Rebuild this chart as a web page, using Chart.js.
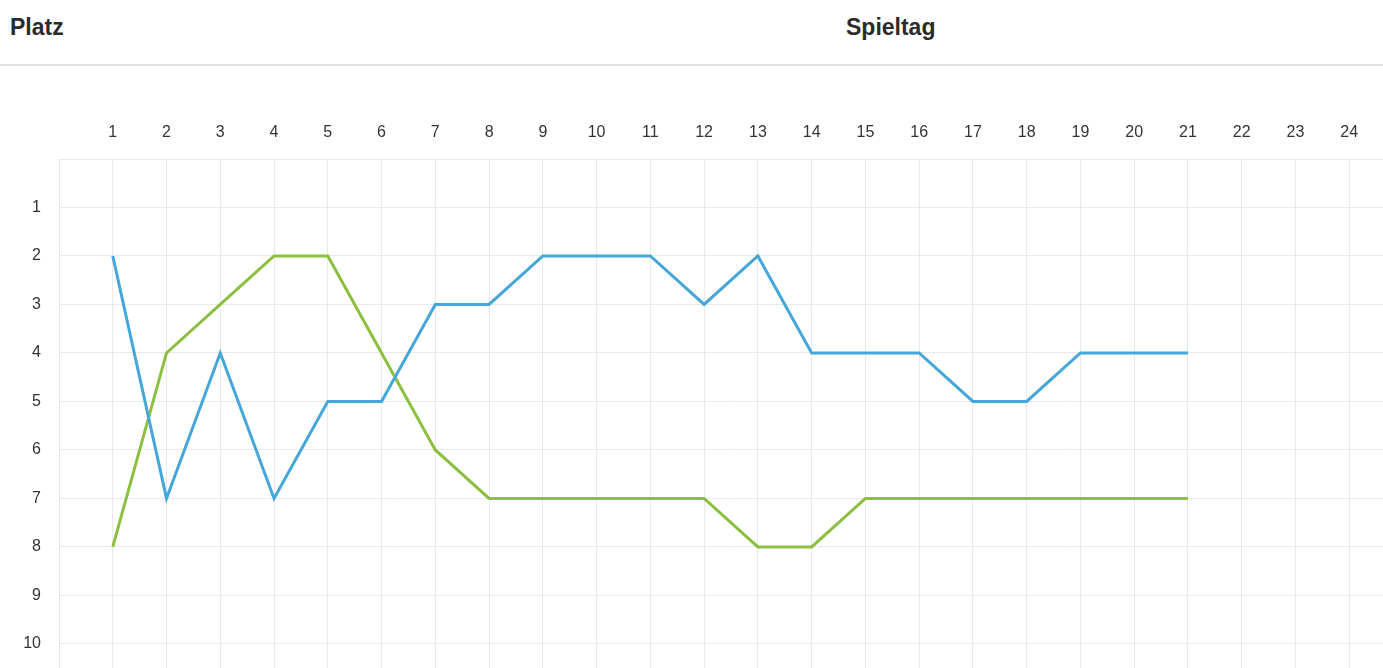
<!DOCTYPE html>
<html>
<head>
<meta charset="utf-8">
<script src="https://cdn.jsdelivr.net/npm/chart.js@4"></script>
<style>
  body { margin: 0; background: #fff; overflow: hidden; font-family: "Liberation Sans", Arial, sans-serif; }
  .title { position: absolute; top: 12px; font-size: 23px; font-weight: bold; color: #2b2b2b; line-height: 30px; }
  #platz { left: 10px; }
  #spieltag { left: 846px; }
  #rule { position: absolute; left: 0; top: 64px; width: 1383px; height: 2px; background: #e2e2e2; }
  #chart { position: absolute; left: 0; top: 102px; }
</style>
</head>
<body>
<div class="title" id="platz">Platz</div>
<div class="title" id="spieltag">Spieltag</div>
<div id="rule"></div>
<canvas id="chart" width="1420" height="715"></canvas>
<script>
// Spieltage and Tabellenplätze
const spieltage = [1, 2, 3, 4, 5, 6, 7, 8, 9, 10, 11, 12, 13, 14, 15, 16, 17, 18, 19, 20, 21];
const platzBlau = [2, 7, 4, 7, 5, 5, 3, 3, 2, 2, 2, 3, 2, 4, 4, 4, 5, 5, 4, 4, 4];
const platzGruen = [8, 4, 3, 2, 2, 4, 6, 7, 7, 7, 7, 7, 8, 8, 7, 7, 7, 7, 7, 7, 7];

// tick labels
const spieltagTicks = [1, 2, 3, 4, 5, 6, 7, 8, 9, 10, 11, 12, 13, 14, 15, 16, 17, 18, 19, 20, 21, 22, 23, 24];
const platzTicks = [1, 2, 3, 4, 5, 6, 7, 8, 9, 10, 11, 12];

const toPoints = (vals) => vals.map((v, i) => ({ x: spieltage[i], y: v }));

const gridColor = "#e9e9e9";
const tickFont = { family: "Liberation Sans", size: 16 };

new Chart(document.getElementById("chart").getContext("2d"), {
  type: "line",
  data: {
    datasets: [
      {
        data: toPoints(platzBlau),
        borderColor: "#45a6d9",
        borderWidth: 3,
        pointRadius: 0,
        tension: 0,
      },
      {
        data: toPoints(platzGruen),
        borderColor: "#8cbf3f",
        borderWidth: 3,
        pointRadius: 0,
        tension: 0,
      },
    ],
  },
  options: {
    responsive: false,
    animation: false,
    devicePixelRatio: 1,
    layout: { padding: { top: 0, left: 0, right: 5, bottom: 15 } },
    plugins: {
      legend: { display: false },
      tooltip: { enabled: false },
    },
    scales: {
      x: {
        type: "linear",
        position: "top",
        min: 0,
        max: 25,
        afterFit: (scale) => { scale.height = 57; },
        grid: { color: gridColor, drawTicks: false },
        border: { color: gridColor },
        ticks: {
          stepSize: 1,
          padding: 17,
          color: "#333",
          font: tickFont,
          maxRotation: 0,
          autoSkip: false,
          callback: (v) => (spieltagTicks.includes(v) ? v : ""),
        },
      },
      y: {
        type: "linear",
        reverse: true,
        min: 0,
        max: 13,
        afterFit: (scale) => { scale.width = 59; },
        grid: { color: gridColor, drawTicks: false },
        border: { color: gridColor },
        ticks: {
          stepSize: 1,
          padding: 18,
          color: "#333",
          font: tickFont,
          autoSkip: false,
          callback: (v) => (platzTicks.includes(v) ? v : ""),
        },
      },
    },
  },
});
</script>
</body>
</html>
